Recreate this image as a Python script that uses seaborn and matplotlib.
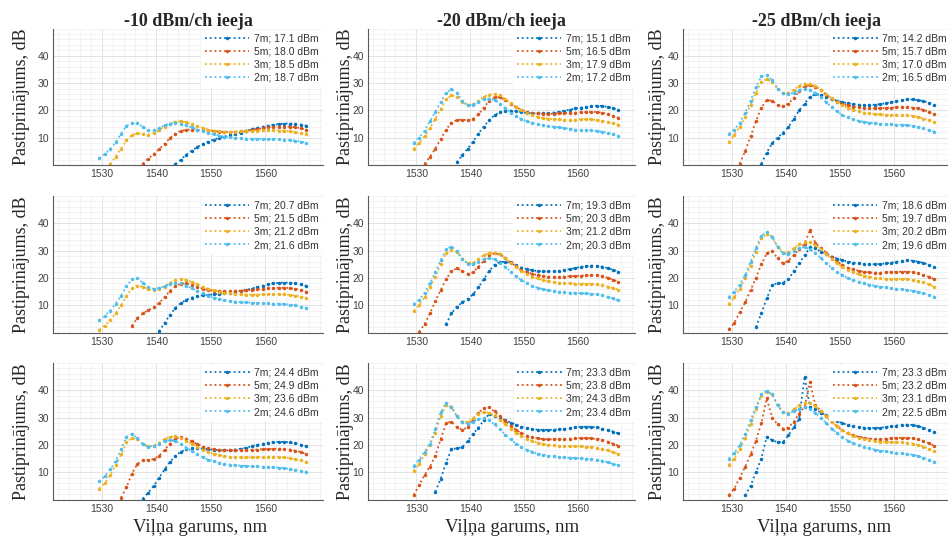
import math
import matplotlib
matplotlib.use("Agg")
import matplotlib.pyplot as plt
import seaborn as sns
import pandas as pd
from matplotlib.lines import Line2D
from matplotlib.ticker import MultipleLocator, FixedLocator

N = float("nan")

WAVELENGTH = [1529.5, 1530.5, 1531.5, 1532.5, 1533.5, 1534.5, 1535.5, 1536.5, 1537.5, 1538.5,
              1539.5, 1540.5, 1541.5, 1542.5, 1543.5, 1544.5, 1545.5, 1546.5, 1547.5, 1548.5,
              1549.5, 1550.5, 1551.5, 1552.5, 1553.5, 1554.5, 1555.5, 1556.5, 1557.5, 1558.5,
              1559.5, 1560.5, 1561.5, 1562.5, 1563.5, 1564.5, 1565.5, 1566.5, 1567.5]

SERIES = ["7m", "5m", "3m", "2m"]
COLORS = {"7m": "#0072BD", "5m": "#D95319", "3m": "#EDB120", "2m": "#4DBEEE"}
COLUMN_TITLES = ["-10 dBm/ch ieeja", "-20 dBm/ch ieeja", "-25 dBm/ch ieeja"]
X_TICKS = [1530, 1540, 1550, 1560]
Y_TICKS = [10, 20, 30, 40]
Y_LABEL = "Pastiprinājums, dB"
X_LABEL = "Viļņa garums, nm"

# legend output powers (dBm) per panel, order 7m, 5m, 3m, 2m
POWER_R1C1 = ["17.1", "18.0", "18.5", "18.7"]
POWER_R1C2 = ["15.1", "16.5", "17.9", "17.2"]
POWER_R1C3 = ["14.2", "15.7", "17.0", "16.5"]
POWER_R2C1 = ["20.7", "21.5", "21.2", "21.6"]
POWER_R2C2 = ["19.3", "20.3", "21.2", "20.3"]
POWER_R2C3 = ["18.6", "19.7", "20.2", "19.6"]
POWER_R3C1 = ["24.4", "24.9", "23.6", "24.6"]
POWER_R3C2 = ["23.3", "23.8", "24.3", "23.4"]
POWER_R3C3 = ["23.3", "23.2", "23.1", "22.5"]

# gain (dB) per panel and fibre length
R1C1_7M = [N,N,N,N,N,N,N,N,N,N, N,N,N,N,0.4,2.0,3.8,5.3,6.6,7.7, 8.6,9.3,9.9,10.4,10.9,11.4,11.9,12.5,13.1,13.6, 14.0,14.4,14.7,15.0,15.2,15.2,15.1,14.8,14.4]
R1C1_5M = [N,N,N,N,N,N,N,N,0.5,2.3, 4.0,5.8,7.8,9.8,11.5,12.5,12.9,13.0,12.9,12.8, 12.6,12.4,12.2,12.1,12.1,12.2,12.4,12.6,12.9,13.2, 13.5,13.8,14.0,14.1,14.1,14.0,13.8,13.5,13.0]
R1C1_3M = [N,N,0.4,3.0,6.0,9.0,11.0,11.6,11.3,11.1, 11.6,12.8,14.0,15.2,15.9,16.0,15.6,15.0,14.3,13.6, 13.0,12.6,12.3,12.2,12.1,12.2,12.3,12.4,12.5,12.6, 12.7,12.7,12.7,12.6,12.5,12.3,12.0,11.7,11.3]
R1C1_2M = [2.5,4.0,5.8,8.3,11.5,14.3,15.4,15.3,14.0,12.8, 12.8,13.5,14.5,15.2,15.5,15.2,14.5,13.8,13.0,12.3, 11.8,11.3,10.8,10.4,10.1,9.9,9.8,9.7,9.6,9.6, 9.5,9.5,9.5,9.4,9.3,9.1,8.9,8.6,8.2]

R1C2_7M = [N,N,N,N,N,N,N,N,1.0,3.5, 6.0,8.5,11.5,14.0,16.5,18.2,19.3,19.8,19.9,19.7, 19.4,19.1,18.9,18.9,18.9,19.0,19.2,19.5,19.9,20.3, 20.7,21.0,21.3,21.6,21.7,21.6,21.3,20.8,20.2]
R1C2_5M = [N,N,0.5,3.0,6.0,9.5,13.0,15.5,16.5,16.6, 16.4,16.8,18.5,21.0,23.5,24.8,24.8,23.8,22.5,21.2, 20.2,19.5,19.1,18.9,18.8,18.8,18.8,18.9,19.0,19.1, 19.2,19.3,19.4,19.5,19.4,19.1,18.7,18.1,17.3]
R1C2_3M = [6.0,8.0,10.5,13.5,17.0,20.5,24.0,25.5,25.0,23.0, 22.0,22.2,23.5,25.0,25.8,26.0,25.5,24.2,22.8,21.3, 20.0,19.0,18.2,17.6,17.2,17.0,16.8,16.7,16.6,16.6, 16.6,16.7,16.8,16.7,16.5,16.2,15.8,15.3,14.8]
R1C2_2M = [8.2,10.0,12.5,16.0,19.5,23.0,26.5,27.7,26.5,23.5, 22.0,22.0,23.0,24.0,24.3,23.8,22.5,20.8,19.2,17.8, 16.8,16.0,15.4,15.0,14.6,14.3,14.0,13.8,13.5,13.2, 13.0,12.9,12.8,12.7,12.5,12.2,11.8,11.3,10.8]

R1C3_7M = [N,N,N,N,N,N,0.5,4.5,8.0,10.0, 11.8,13.8,17.0,20.0,22.5,25.0,26.0,25.8,25.0,24.2, 23.5,23.0,22.6,22.3,22.1,22.0,22.0,22.1,22.3,22.6, 23.0,23.4,23.8,24.0,24.0,23.8,23.4,22.8,22.0]
R1C3_5M = [N,N,0.5,5.0,10.5,16.0,21.0,23.8,23.5,22.0, 21.5,22.5,24.5,27.0,28.8,29.3,28.7,27.4,25.8,24.3, 23.2,22.4,21.8,21.4,21.1,20.9,20.8,20.7,20.8,20.9, 21.0,21.1,21.2,21.2,21.0,20.7,20.2,19.5,18.6]
R1C3_3M = [8.5,11.0,14.0,17.5,22.0,26.5,30.5,31.5,30.3,28.0, 26.5,26.5,27.5,29.0,29.8,29.8,29.0,27.6,26.0,24.4, 23.0,21.8,20.9,20.2,19.6,19.2,18.9,18.7,18.5,18.4, 18.3,18.3,18.3,18.2,18.0,17.6,17.0,16.4,15.8]
R1C3_2M = [11.5,13.0,15.5,19.0,23.5,28.5,32.5,33.0,31.0,28.0, 26.2,26.0,26.5,27.5,28.0,27.5,26.3,24.8,23.0,21.2, 19.6,18.3,17.4,16.7,16.2,15.8,15.5,15.3,15.1,15.0, 14.9,14.8,14.7,14.6,14.4,14.0,13.5,12.8,12.2]

R2C1_7M = [N,N,N,N,N,N,N,N,N,N, N,0.4,3.5,6.5,9.0,10.8,12.0,12.8,13.3,13.6, 13.8,14.0,14.2,14.4,14.6,14.9,15.2,15.6,16.1,16.6, 17.1,17.6,18.0,18.2,18.3,18.2,18.0,17.6,17.1]
R2C1_5M = [N,N,N,N,N,N,2.5,5.3,7.0,8.2, 9.2,10.8,13.0,15.3,17.0,17.9,18.0,17.5,16.8,16.1, 15.6,15.3,15.1,15.1,15.1,15.2,15.3,15.4,15.6,15.8, 16.0,16.2,16.3,16.4,16.4,16.3,16.0,15.6,15.0]
R2C1_3M = [1.0,2.5,4.5,7.0,10.0,13.5,16.2,17.2,16.8,15.8, 15.4,15.8,16.8,18.2,19.2,19.6,19.3,18.5,17.6,16.8, 16.1,15.5,15.0,14.6,14.3,14.1,14.0,13.9,13.9,13.9, 14.0,14.1,14.1,14.1,14.0,13.8,13.5,13.1,12.6]
R2C1_2M = [4.5,6.0,8.0,10.5,13.5,17.0,19.5,19.8,18.2,16.5, 16.0,16.3,17.0,17.8,18.2,18.0,17.2,16.2,15.2,14.3, 13.5,12.8,12.3,11.9,11.6,11.3,11.1,11.0,10.9,10.8, 10.8,10.7,10.6,10.5,10.4,10.2,9.9,9.5,9.1]

R2C2_7M = [N,N,N,N,N,N,3.0,7.0,9.5,11.0, 12.3,14.0,16.5,19.5,22.5,24.8,25.8,25.9,25.4,24.6, 23.8,23.2,22.8,22.5,22.4,22.4,22.5,22.6,22.9,23.2, 23.6,24.0,24.3,24.5,24.4,24.1,23.6,23.0,22.3]
R2C2_5M = [N,0.3,3.0,7.0,11.5,15.5,19.5,22.5,23.5,22.5, 21.5,22.0,24.0,26.3,28.3,29.0,28.6,27.3,25.7,24.2, 23.0,22.1,21.5,21.0,20.7,20.5,20.4,20.4,20.5,20.6, 20.7,20.8,20.9,21.0,20.9,20.6,20.1,19.4,18.5]
R2C2_3M = [8.0,10.0,13.0,16.5,20.5,25.0,29.0,30.3,29.5,27.0, 25.5,25.5,26.8,28.3,29.2,29.3,28.6,27.2,25.6,24.0, 22.6,21.4,20.5,19.8,19.2,18.8,18.5,18.3,18.1,18.0, 17.9,17.9,17.9,17.8,17.6,17.3,16.8,16.3,15.7]
R2C2_2M = [10.5,12.0,14.5,18.0,22.0,26.5,30.5,31.5,30.0,27.0, 25.2,25.0,25.8,26.8,27.2,26.8,25.5,24.0,22.3,20.6, 19.2,18.0,17.1,16.4,15.9,15.5,15.2,15.0,14.8,14.6, 14.5,14.4,14.3,14.2,14.0,13.6,13.1,12.5,11.8]

R2C3_7M = [N,N,N,N,N,2.0,7.0,12.5,17.5,18.0, 18.2,19.5,22.5,25.3,28.3,31.2,31.0,29.5,28.6,27.8, 27.1,26.5,26.0,25.6,25.3,25.1,25.0,25.0,25.1,25.3, 25.6,25.9,26.2,26.4,26.3,26.0,25.5,24.8,24.0]
R2C3_5M = [1.2,3.5,7.5,11.0,15.5,20.0,25.0,29.0,29.8,27.2, 25.3,26.3,28.3,30.5,32.5,37.5,32.8,31.0,29.3,27.5, 26.0,24.8,23.8,23.1,22.6,22.2,22.0,21.9,21.9,22.0, 22.1,22.2,22.3,22.3,22.1,21.7,21.1,20.4,19.5]
R2C3_3M = [10.5,13.0,16.0,20.0,24.5,29.5,34.5,36.0,34.8,31.5, 29.3,29.5,30.8,32.3,33.2,33.0,32.0,30.5,28.8,27.0, 25.3,24.0,22.9,22.0,21.3,20.8,20.4,20.1,19.9,19.7, 19.6,19.6,19.6,19.5,19.3,19.0,18.4,17.7,16.8]
R2C3_2M = [13.0,15.0,17.5,21.0,26.0,31.0,35.5,36.8,35.0,31.5, 29.0,28.8,29.8,31.0,31.3,30.5,29.0,27.3,25.5,23.7, 22.2,21.0,20.0,19.2,18.5,18.0,17.5,17.1,16.8,16.5, 16.2,16.0,15.8,15.6,15.3,14.9,14.4,13.8,13.1]

R3C1_7M = [N,N,N,N,N,N,N,N,0.3,2.5, 5.0,8.0,11.0,13.8,16.0,17.5,18.4,18.8,18.8,18.6, 18.4,18.2,18.1,18.0,18.1,18.3,18.6,19.0,19.5,20.0, 20.4,20.8,21.0,21.1,21.1,20.9,20.6,20.1,19.5]
R3C1_5M = [N,N,N,N,0.7,4.5,9.5,13.0,14.3,14.5, 14.8,16.0,18.2,20.5,22.3,22.8,22.3,21.3,20.3,19.4, 18.8,18.4,18.1,18.0,18.0,18.0,18.0,18.1,18.2,18.3, 18.4,18.5,18.6,18.6,18.5,18.3,17.9,17.4,16.7]
R3C1_3M = [4.0,6.0,9.0,12.5,16.5,21.0,22.5,22.0,20.3,19.5, 19.7,20.8,22.2,23.0,23.1,22.5,21.5,20.4,19.3,18.3, 17.5,16.8,16.3,15.9,15.6,15.5,15.4,15.4,15.4,15.5, 15.6,15.7,15.7,15.6,15.4,15.1,14.7,14.3,13.8]
R3C1_2M = [6.6,8.5,11.0,14.0,18.5,23.0,24.0,22.5,20.2,19.3, 19.6,20.5,21.4,21.8,21.4,20.3,19.0,17.7,16.5,15.5, 14.6,14.0,13.5,13.1,12.8,12.6,12.4,12.3,12.2,12.1, 12.0,11.9,11.8,11.7,11.5,11.2,10.9,10.5,10.1]

R3C2_7M = [N,N,N,N,2.9,7.5,13.5,18.4,18.8,19.1, 21.3,24.0,26.3,29.0,31.3,30.5,29.8,29.0,28.2,27.4, 26.7,26.2,25.8,25.6,25.5,25.5,25.6,25.7,25.9,26.1, 26.4,26.6,26.7,26.6,26.4,26.0,25.5,24.9,24.2]
R3C2_5M = [1.7,5.2,9.0,12.0,16.0,22.0,28.0,28.5,26.5,25.5, 26.5,29.0,31.8,33.5,33.7,32.3,30.5,28.8,27.0,25.5, 24.3,23.4,22.8,22.4,22.1,22.0,22.0,22.1,22.2,22.3, 22.4,22.5,22.5,22.4,22.2,21.8,21.2,20.5,19.7]
R3C2_3M = [10.5,13.0,16.5,20.0,24.5,30.5,34.5,33.8,30.5,28.5, 28.5,29.8,31.3,32.0,31.8,30.8,29.3,27.6,26.0,24.5, 23.2,22.2,21.4,20.8,20.3,20.0,19.8,19.6,19.5,19.5, 19.5,19.5,19.4,19.3,19.0,18.6,18.0,17.4,16.7]
R3C2_2M = [12.4,14.5,17.5,20.5,25.8,32.0,35.4,34.0,30.5,28.3, 27.8,28.5,29.5,29.8,29.0,27.5,25.7,23.8,22.0,20.5, 19.2,18.2,17.4,16.8,16.4,16.0,15.8,15.6,15.4,15.3, 15.2,15.1,15.0,14.9,14.6,14.2,13.7,13.1,12.5]

R3C3_7M = [N,N,N,1.5,5.0,10.0,15.0,23.0,21.7,21.0, 21.0,23.5,26.5,29.5,45.0,34.0,33.0,31.8,30.8,29.8, 28.8,28.0,27.3,26.8,26.5,26.3,26.2,26.2,26.3,26.5, 26.8,27.1,27.3,27.4,27.3,26.9,26.3,25.5,24.6]
R3C3_5M = [1.7,4.0,8.0,12.0,16.5,21.5,28.0,37.0,30.0,27.5, 26.0,26.3,28.5,31.5,34.0,43.0,34.5,32.5,30.5,28.5, 26.8,25.3,24.3,23.5,23.0,22.6,22.3,22.2,22.2,22.3, 22.4,22.5,22.6,22.6,22.4,22.0,21.4,20.6,19.7]
R3C3_3M = [12.8,15.0,18.5,22.5,27.5,33.0,38.0,39.5,38.5,34.5, 32.0,31.8,33.0,34.5,35.3,35.2,34.2,32.5,30.5,28.5, 26.8,25.3,24.2,23.3,22.6,22.1,21.7,21.4,21.2,21.1, 21.0,21.0,20.9,20.8,20.5,20.0,19.4,18.6,17.7]
R3C3_2M = [15.0,17.0,20.0,24.0,29.0,34.0,38.5,39.8,38.5,34.5, 32.0,31.5,32.3,33.3,33.7,33.2,31.8,30.0,28.0,26.0, 24.2,22.8,21.6,20.6,19.8,19.2,18.7,18.3,17.9,17.6, 17.3,17.1,16.9,16.7,16.4,15.9,15.3,14.6,13.8]

PANELS = [
    [((R1C1_7M, R1C1_5M, R1C1_3M, R1C1_2M), POWER_R1C1),
     ((R1C2_7M, R1C2_5M, R1C2_3M, R1C2_2M), POWER_R1C2),
     ((R1C3_7M, R1C3_5M, R1C3_3M, R1C3_2M), POWER_R1C3)],
    [((R2C1_7M, R2C1_5M, R2C1_3M, R2C1_2M), POWER_R2C1),
     ((R2C2_7M, R2C2_5M, R2C2_3M, R2C2_2M), POWER_R2C2),
     ((R2C3_7M, R2C3_5M, R2C3_3M, R2C3_2M), POWER_R2C3)],
    [((R3C1_7M, R3C1_5M, R3C1_3M, R3C1_2M), POWER_R3C1),
     ((R3C2_7M, R3C2_5M, R3C2_3M, R3C2_2M), POWER_R3C2),
     ((R3C3_7M, R3C3_5M, R3C3_3M, R3C3_2M), POWER_R3C3)],
]

sns.set_style("white")
SERIF = ["Liberation Serif", "DejaVu Serif"]
SANS = ["Liberation Sans", "DejaVu Sans"]
plt.rcParams["font.family"] = SANS

W, H = 948, 540
fig = plt.figure(figsize=(W / 100, H / 100), dpi=100)

col_left = [53, 368, 683]
col_width = [270, 267, 268]
row_top = [28.5, 196, 363]
row_height = 136.5
ylabel_x = [22, 345, 658]
xlabel_x = [200, 512, 824]

for r in range(3):
    for c in range(3):
        arrays, powers = PANELS[r][c]
        ax = fig.add_axes([col_left[c] / W, 1 - (row_top[r] + row_height) / H,
                           col_width[c] / W, row_height / H])
        records = []
        for s, vals in zip(SERIES, arrays):
            for w, g in zip(WAVELENGTH, vals):
                if not math.isnan(g):
                    records.append({"wl": w, "gain": g, "series": s})
        df = pd.DataFrame(records)
        sns.lineplot(data=df, x="wl", y="gain", hue="series", hue_order=SERIES,
                     palette=COLORS, estimator=None, errorbar=None, ax=ax,
                     legend=False, linestyle=":", linewidth=1.3, marker=".",
                     markersize=5, markeredgewidth=0)
        ax.set_xlim(1521, 1570.6)
        ax.set_ylim(0, 50)
        ax.xaxis.set_major_locator(FixedLocator(X_TICKS))
        ax.yaxis.set_major_locator(FixedLocator(Y_TICKS))
        ax.xaxis.set_minor_locator(MultipleLocator(2))
        ax.yaxis.set_minor_locator(MultipleLocator(2))
        ax.grid(which="major", color="#dedede", linewidth=0.6)
        ax.grid(which="minor", color="#efefef", linewidth=0.5)
        ax.set_axisbelow(True)
        ax.set_xlabel("")
        ax.set_ylabel("")
        for side in ("top", "right"):
            ax.spines[side].set_visible(False)
        for side in ("left", "bottom"):
            ax.spines[side].set_color("#5a5a5a")
            ax.spines[side].set_linewidth(0.8)
        ax.tick_params(which="major", direction="in", length=3, width=0.6,
                       color="#5a5a5a", labelsize=7.5, labelcolor="#404040", pad=3)
        ax.tick_params(which="minor", length=0)
        for lab in ax.get_xticklabels() + ax.get_yticklabels():
            lab.set_family(SANS)

        handles = [Line2D([], [], color=COLORS[s], linestyle=":", linewidth=1.3,
                          marker=".", markersize=5, markeredgewidth=0)
                   for s in SERIES]
        labels = [f"{s}; {p} dBm" for s, p in zip(SERIES, powers)]
        leg = ax.legend(handles, labels, loc="upper right", fontsize=7.5,
                        handlelength=4.3, handletextpad=0.4, labelspacing=0.3,
                        borderpad=0.3, borderaxespad=0.15, frameon=True,
                        framealpha=1, edgecolor="white", fancybox=False,
                        numpoints=1)
        for t in leg.get_texts():
            t.set_color("#333333")

        if r == 0:
            ax.set_title(COLUMN_TITLES[c], fontfamily=SERIF, fontweight="bold",
                         fontsize=13, pad=2)
        fig.text(ylabel_x[c] / W, 1 - (row_top[r] + row_height / 2) / H, Y_LABEL,
                 rotation=90, ha="center", va="center", fontsize=13, family=SERIF)
        if r == 2:
            fig.text(xlabel_x[c] / W, 1 - 527 / H, X_LABEL, ha="center", va="center",
                     fontsize=13.5, family=SERIF)

fig.savefig("out.png", dpi=100)
